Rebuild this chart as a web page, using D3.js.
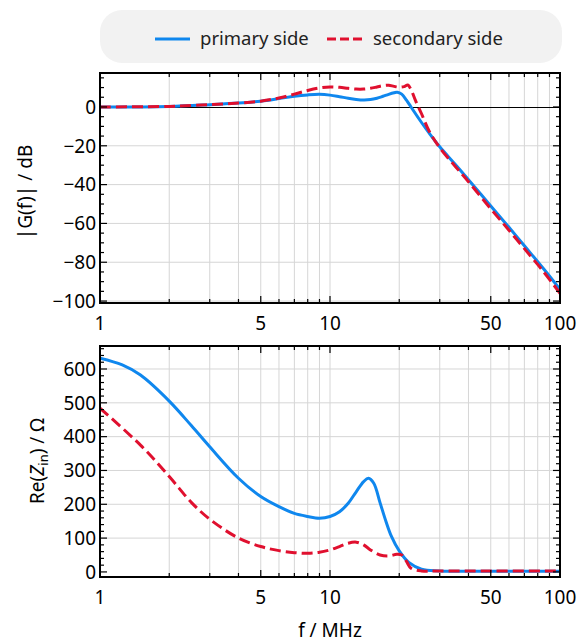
<!DOCTYPE html>
<html>
<head>
<meta charset="utf-8">
<script src="https://cdn.jsdelivr.net/npm/d3@7"></script>
<style>
  body { margin: 0; background: #fff; }
  svg { display: block; font-family: "Noto Sans", "Open Sans", sans-serif; }
</style>
</head>
<body>
<script>
// ---- data ----
const seriesNames = ["primary side", "secondary side"]

// |G(f)| in dB
const gainFreqPrimary = [1, 2, 3, 4, 5, 6, 7, 8, 9, 10, 11, 12, 13, 14, 15, 16, 17, 18, 19, 19.6, 20.5, 21.5, 22.5, 25, 27, 30, 35, 40, 50, 60, 70, 85, 100]
const gainPrimary     = [0, 0.3, 1.2, 2.0, 3.0, 4.3, 5.5, 6.2, 6.5, 6.1, 5.3, 4.5, 3.9, 3.6, 3.8, 4.5, 5.5, 6.5, 7.3, 7.6, 6.6, 3.5, 0, -8, -13.5, -20.5, -29.5, -37.5, -51, -62, -71.5, -83.5, -94]

const gainFreqSecondary = [1, 2, 3, 4, 5, 6, 7, 8, 9, 10, 11, 12, 13, 14, 15, 16, 17, 18, 19, 20, 21, 21.8, 22.5, 23.5, 25, 27, 30, 35, 40, 50, 60, 70, 85, 100]
const gainSecondary     = [0, 0.3, 1.2, 2.0, 3.0, 4.6, 6.6, 8.5, 9.8, 10.3, 10.1, 9.6, 9.2, 9.2, 9.6, 10.3, 11.0, 11.2, 10.6, 10.2, 10.5, 11.3, 9, 3.5, -3.5, -12.5, -21, -30.5, -38.5, -52.5, -63.5, -73, -85, -96]

// Re(Z_in) in ohm
const zFreqPrimary = [1, 1.25, 1.5, 2, 2.5, 3, 4, 5, 6, 7, 8, 9, 10, 11, 12, 13, 14, 14.7, 15.5, 16.5, 17.5, 18.5, 20, 22, 25, 30, 50, 100]
const zPrimary     = [632, 612, 582, 505, 432, 370, 277, 223, 193, 173, 164, 159, 164, 178, 203, 237, 267, 277, 262, 205, 150, 105, 62, 28, 8, 3, 2, 2]

const zFreqSecondary = [1, 1.5, 2, 2.5, 3, 4, 5, 6, 7, 8, 9, 10, 11, 12, 13, 14, 15, 16.5, 18, 19.5, 20.5, 21.5, 22.5, 25, 30, 50, 100]
const zSecondary     = [484, 375, 282, 205, 156, 100, 75, 63, 57, 55, 58, 65, 75, 85, 88, 80, 65, 50, 47, 52, 50, 31, 11, 3, 3, 3, 3]

const xTickLabels = [1, 5, 10, 50, 100]
const xMinorTicks = [2, 3, 4, 6, 7, 8, 9, 20, 30, 40, 60, 70, 80, 90]
const gainTicks = [0, -20, -40, -60, -80, -100]
const zTicks = [0, 100, 200, 300, 400, 500, 600]

// ---- layout ----
const width = 577, height = 643
const blue = "#0f87ee", red = "#e0102f"
const gridColor = "#d6d6d6"
const fontSize = 19

const svg = d3.select("body").append("svg")
    .attr("width", width)
    .attr("height", height)

const x = d3.scaleLog().domain([1, 100]).range([100, 560])

const panels = [
  {
    top: 73, bottom: 303,
    y: d3.scaleLinear().domain([-101, 17.5]).range([303, 73]),
    major: gainTicks, minorStep: 5,
    series: [
      {f: gainFreqPrimary, v: gainPrimary, color: blue, dash: null},
      {f: gainFreqSecondary, v: gainSecondary, color: red, dash: "11,5"}
    ],
    zeroLine: true
  },
  {
    top: 346, bottom: 577,
    y: d3.scaleLinear().domain([-15, 668]).range([577, 346]),
    major: zTicks, minorStep: 20,
    series: [
      {f: zFreqPrimary, v: zPrimary, color: blue, dash: null},
      {f: zFreqSecondary, v: zSecondary, color: red, dash: "11,5"}
    ],
    zeroLine: false
  }
]

const left = 100, right = 560

panels.forEach((p, i) => {
  const g = svg.append("g")
  const y = p.y

  // grid
  g.append("g").selectAll("line")
    .data(xMinorTicks.concat([5, 10, 50]))
    .join("line")
      .attr("x1", d => x(d)).attr("x2", d => x(d))
      .attr("y1", p.top).attr("y2", p.bottom)
      .attr("stroke", gridColor).attr("stroke-width", 1)

  g.append("g").selectAll("line")
    .data(p.major.filter(v => v !== 0))
    .join("line")
      .attr("x1", left).attr("x2", right)
      .attr("y1", d => y(d)).attr("y2", d => y(d))
      .attr("stroke", gridColor).attr("stroke-width", 1)

  if (p.zeroLine) {
    g.append("line")
      .attr("x1", left).attr("x2", right)
      .attr("y1", Math.round(y(0)) + 0.5).attr("y2", Math.round(y(0)) + 0.5)
      .attr("stroke", "#000").attr("stroke-width", 1)
  }

  // curves
  const clipId = "clip" + i
  svg.append("clipPath").attr("id", clipId)
    .append("rect")
      .attr("x", left).attr("y", p.top)
      .attr("width", right - left).attr("height", p.bottom - p.top)

  const line = d3.line()
    .x(d => x(d[0]))
    .y(d => y(d[1]))
    .curve(d3.curveCatmullRom.alpha(0.5))

  p.series.forEach(s => {
    g.append("path")
      .attr("clip-path", `url(#${clipId})`)
      .attr("d", line(d3.zip(s.f, s.v)))
      .attr("fill", "none")
      .attr("stroke", s.color)
      .attr("stroke-width", 3)
      .attr("stroke-dasharray", s.dash)
  })

  // ticks, inward on all four sides
  const [y0, y1] = y.domain()
  const minor = d3.range(Math.ceil(y0 / p.minorStep) * p.minorStep, y1, p.minorStep)
    .filter(v => !p.major.includes(v))
  const ticks = g.append("g").attr("stroke", "#000").attr("stroke-width", 1.2)
  const yTicks = p.major.map(v => [v, 7]).concat(minor.map(v => [v, 4]))
  yTicks.forEach(([v, len]) => {
    ticks.append("line").attr("x1", left).attr("x2", left + len).attr("y1", y(v)).attr("y2", y(v))
    ticks.append("line").attr("x1", right).attr("x2", right - len).attr("y1", y(v)).attr("y2", y(v))
  })
  const xt = xTickLabels.map(v => [v, 7]).concat(xMinorTicks.map(v => [v, 4]))
  xt.forEach(([v, len]) => {
    ticks.append("line").attr("x1", x(v)).attr("x2", x(v)).attr("y1", p.bottom).attr("y2", p.bottom - len)
    ticks.append("line").attr("x1", x(v)).attr("x2", x(v)).attr("y1", p.top).attr("y2", p.top + len)
  })

  // frame
  g.append("rect")
    .attr("x", left).attr("y", p.top)
    .attr("width", right - left).attr("height", p.bottom - p.top)
    .attr("fill", "none").attr("stroke", "#000").attr("stroke-width", 2)

  // labels
  g.append("g").selectAll("text")
    .data(p.major)
    .join("text")
      .attr("x", left - 4)
      .attr("y", d => y(d))
      .attr("dy", "0.36em")
      .attr("text-anchor", "end")
      .attr("font-size", fontSize)
      .text(d => d < 0 ? "\u2212" + Math.abs(d) : d)

  g.append("g").selectAll("text")
    .data(xTickLabels)
    .join("text")
      .attr("x", d => x(d))
      .attr("y", p.bottom + 27)
      .attr("text-anchor", "middle")
      .attr("font-size", fontSize)
      .text(d => d)
})

// axis titles
svg.append("text")
  .attr("transform", "translate(32,192) rotate(-90)")
  .attr("text-anchor", "middle")
  .attr("font-size", fontSize)
  .text("|G(f)| / dB")

const zt = svg.append("text")
  .attr("transform", "translate(44,461) rotate(-90)")
  .attr("text-anchor", "middle")
  .attr("font-size", fontSize)
zt.append("tspan").text("Re(")
zt.append("tspan").attr("font-style", "italic").text("Z")
zt.append("tspan").attr("font-size", 13).attr("dy", 4).text("in")
zt.append("tspan").attr("dy", -4).text(") / \u03a9")

svg.append("text")
  .attr("x", x(10))
  .attr("y", 637)
  .attr("text-anchor", "middle")
  .attr("font-size", fontSize)
  .text("f / MHz")

// legend
const legend = svg.append("g")
legend.append("rect")
  .attr("x", 100).attr("y", 10)
  .attr("width", 462).attr("height", 53)
  .attr("rx", 22)
  .attr("fill", "#f2f2f2")

const legendItems = [
  {name: seriesNames[0], color: blue, dash: null, x0: 155, tx: 200},
  {name: seriesNames[1], color: red, dash: "9,4", x0: 327, tx: 373}
]
legendItems.forEach(d => {
  legend.append("line")
    .attr("x1", d.x0).attr("x2", d.x0 + 35)
    .attr("y1", 39).attr("y2", 39)
    .attr("stroke", d.color).attr("stroke-width", 3)
    .attr("stroke-dasharray", d.dash)
  legend.append("text")
    .attr("x", d.tx).attr("y", 45)
    .attr("font-size", 18.5)
    .attr("fill", "#222")
    .text(d.name)
})
</script>
</body>
</html>
